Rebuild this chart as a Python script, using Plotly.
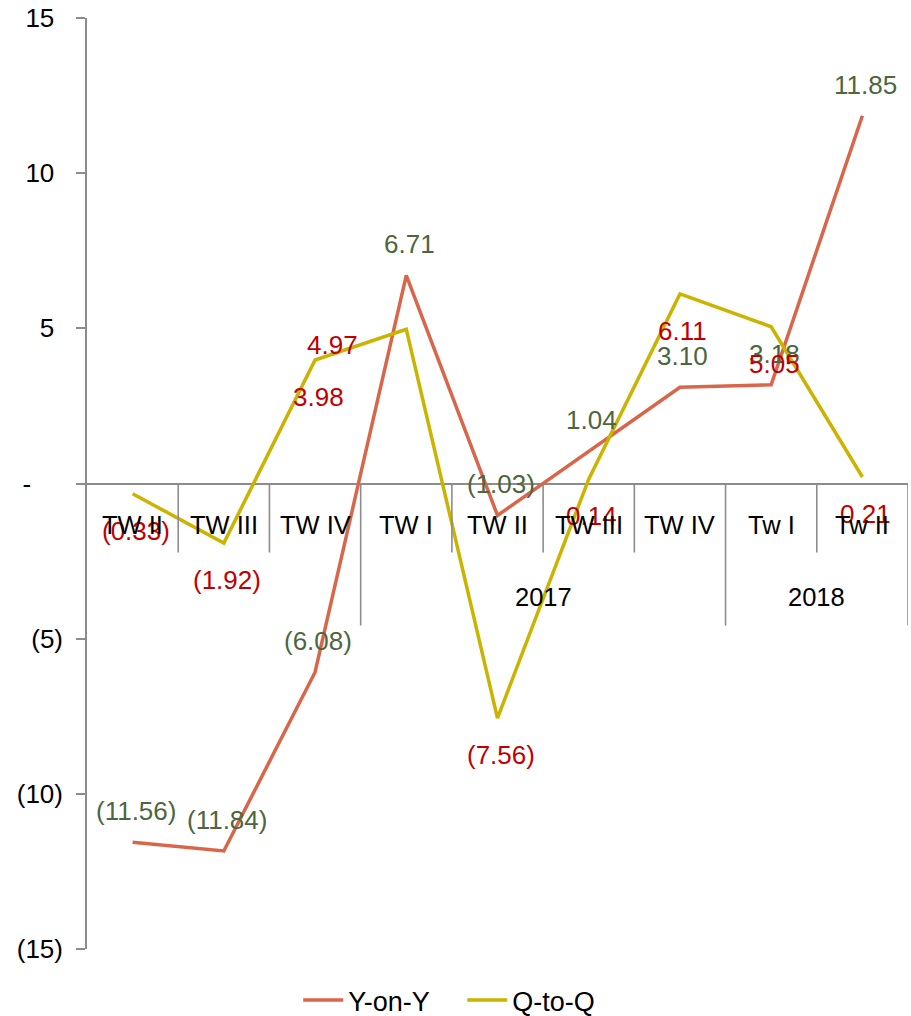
import plotly.graph_objects as go

# ---- data ----
quarters = ["TW II", "TW III", "TW IV", "TW I", "TW II", "TW III", "TW IV", "Tw I", "Tw II"]
years = ["", "", "", "2017", "2017", "2017", "2017", "2018", "2018"]
yoy = [-11.56, -11.84, -6.08, 6.71, -1.03, 1.04, 3.10, 3.18, 11.85]
qoq = [-0.33, -1.92, 3.98, 4.97, -7.56, 0.14, 6.11, 5.05, 0.21]
tick_vals = [15, 10, 5, 0, -5, -10, -15]
tick_text = ["15", "10", "5", "-", "(5)", "(10)", "(15)"]

# ---- style ----
FONT = "Liberation Sans, Arial, sans-serif"
C_YOY = "#D9664A"
C_QOQ = "#CBB300"
C_GREEN = "#4D6640"
C_RED = "#C00000"
C_AXIS = "#8C8C8C"
FS_LABEL = 26
FS_CAT = 25.5
FS_TICK = 26
FS_LEG = 27

def fmt(v):
    return f"({abs(v):.2f})" if v < 0 else f"{v:.2f}"

INV = "<span style='color:rgba(0,0,0,0)'>{}</span>"
def tick_fmt(t):
    if t == "-":
        return "-" + INV.format("0))")
    if t.startswith("("):
        return t
    return t + INV.format(")")

x = list(range(len(quarters)))

fig = go.Figure()
fig.add_trace(go.Scatter(x=x, y=yoy, mode="lines", name="Y-on-Y",
                         line=dict(color=C_YOY, width=3.5)))
fig.add_trace(go.Scatter(x=x, y=qoq, mode="lines", name="Q-to-Q",
                         line=dict(color=C_QOQ, width=3.5)))

annotations = []
# data labels
special = {3: (-74, -16)}  # Q-to-Q label offset override (index: (xshift, yshift))
for i, v in enumerate(yoy):
    annotations.append(dict(x=i, y=v, xref="x", yref="y", text=fmt(v), showarrow=False,
                            xshift=3, yshift=31, font=dict(color=C_GREEN, size=FS_LABEL, family=FONT)))
for i, v in enumerate(qoq):
    xs, ys = special.get(i, (3, -37))
    annotations.append(dict(x=i, y=v, xref="x", yref="y", text=fmt(v), showarrow=False,
                            xshift=xs, yshift=ys, font=dict(color=C_RED, size=FS_LABEL, family=FONT)))
# category labels
for i, q in enumerate(quarters):
    annotations.append(dict(x=i, y=0, xref="x", yref="y", text=q, showarrow=False,
                            yshift=-41, font=dict(color="black", size=FS_CAT, family=FONT)))
# group labels
groups = []
for i, g in enumerate(years):
    if groups and groups[-1][0] == g:
        groups[-1][2] = i
    else:
        groups.append([g, i, i])
for g, a, b in groups:
    if g:
        annotations.append(dict(x=(a + b) / 2, y=0, xref="x", yref="y", text=g, showarrow=False,
                                yshift=-113, font=dict(color="black", size=FS_CAT, family=FONT)))

# separators
shapes = []
n = len(quarters)
for k in range(1, n + 1):
    long_ = (k == n) or (years[k] != years[k - 1])
    shapes.append(dict(type="line", xref="x", yref="y", ysizemode="pixel", yanchor=0,
                       x0=k - 0.5, x1=k - 0.5, y0=0, y1=-142 if long_ else -69,
                       line=dict(color=C_AXIS, width=1.6)))

fig.update_layout(
    width=911, height=1016,
    margin=dict(l=87, r=3, t=18, b=67, autoexpand=False),
    paper_bgcolor="white", plot_bgcolor="white",
    font=dict(family=FONT, size=FS_TICK, color="black"),
    showlegend=True,
    legend=dict(orientation="h", x=0.457, xanchor="center", y=-0.029, yanchor="top",
                font=dict(size=FS_LEG, color="black"), itemwidth=40, entrywidth=109),
    xaxis=dict(range=[-0.5, n - 0.5], visible=False),
    yaxis=dict(range=[-15, 15], tickvals=tick_vals, ticktext=[tick_fmt(t) for t in tick_text],
               showline=True, linecolor=C_AXIS, linewidth=1.6, ticks="outside", ticklen=9,
               tickcolor=C_AXIS, tickwidth=1.6, showgrid=False, zeroline=True,
               zerolinecolor=C_AXIS, zerolinewidth=1.6, ticklabelstandoff=8,
               tickfont=dict(size=FS_TICK, color="black")),
    annotations=annotations, shapes=shapes,
)

fig.write_html("out.html", config={"displayModeBar": False},
               post_script="document.body.style.margin='0';document.body.style.overflow='hidden';")
